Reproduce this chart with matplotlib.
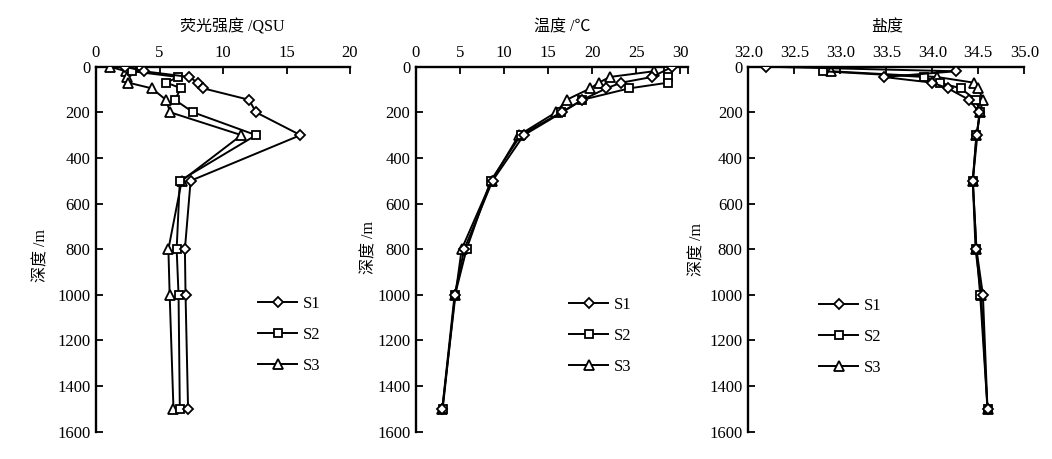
import numpy as np
import matplotlib
matplotlib.use("Agg")
import matplotlib.pyplot as plt

plt.rcParams['font.family'] = ['Liberation Serif', 'Noto Sans CJK SC', 'DejaVu Sans']
plt.rcParams['axes.unicode_minus'] = False

# ---- data ----
depth = [0, 20, 45, 70, 95, 145, 200, 300, 500, 800, 1000, 1500]
stations = ['S1', 'S2', 'S3']

fluor_S1 = [2.3, 3.75, 7.35, 8.0, 8.45, 12.05, 12.6, 16.1, 7.45, 7.0, 7.05, 7.25]
fluor_S2 = [3.55, 2.85, 6.45, 5.55, 6.7, 6.2, 7.65, 12.6, 6.6, 6.35, 6.5, 6.6]
fluor_S3 = [1.1, 2.35, 2.45, 2.55, 4.4, 5.5, 5.85, 11.45, 6.75, 5.7, 5.8, 6.1]

temp_S1 = [29.1, np.nan, 26.8, 23.3, 21.6, 18.9, 16.6, 12.25, 8.7, 5.5, 4.4, 3.0]
temp_S2 = [np.nan, 28.6, 28.6, 28.6, 24.2, 18.9, 16.5, 11.9, 8.5, 5.75, 4.45, 3.05]
temp_S3 = [np.nan, 27.0, 22.0, 20.75, 19.8, 17.1, 15.9, 11.7, 8.6, 5.2, 4.5, 3.0]

sal_S1 = [32.19, 34.26, 33.47, 34.0, 34.17, 34.40, 34.51, 34.49, 34.44, 34.48, 34.55, 34.60]
sal_S2 = [np.nan, 32.81, 33.91, 34.08, 34.31, 34.47, 34.52, 34.48, 34.44, 34.48, 34.52, 34.60]
sal_S3 = [np.nan, 32.90, 34.05, 34.45, 34.50, 34.55, 34.52, 34.48, 34.44, 34.47, 34.53, 34.60]

titles = ['荧光强度 /QSU', '温度 /℃', '盐度']
ylabel = '深度 /m'
xticks_list = [[0, 5, 10, 15, 20],
               [0, 5, 10, 15, 20, 25, 30, 30.9],
               [32.0, 32.5, 33.0, 33.5, 34.0, 34.5, 35.0]]
xtick_labels = [['0', '5', '10', '15', '20'],
                ['0', '5', '10', '15', '20', '25', '30', ''],
                ['32.0', '32.5', '33.0', '33.5', '34.0', '34.5', '35.0']]
xlims = [(0, 20), (0, 30.9), (32, 35)]
yticks = [0, 200, 400, 600, 800, 1000, 1200, 1400, 1600]

panels = [[fluor_S1, fluor_S2, fluor_S3],
          [temp_S1, temp_S2, temp_S3],
          [sal_S1, sal_S2, sal_S3]]

markers = ['D', 's', '^']
msizes = [5.4, 6.2, 6.8]

# ---- layout ----
fig = plt.figure(figsize=(10.52, 4.59), dpi=100)
H = 459.0
W = 1052.0
top_px, bot_px = 66.7, 431.7
axes_px = [(96.0, 350.0), (415.8, 688.3), (748.3, 1024.3)]
title_x_px = [232, 562, 887]
ylabel_pos = [(41.5, 255), (369, 247), (697, 250)]
legend_pos = [(258, 296), (569, 297), (819, 298)]

for i, (l, r) in enumerate(axes_px):
    ax = fig.add_axes([l / W, 1 - bot_px / H, (r - l) / W, (bot_px - top_px) / H])
    for j, s in enumerate(stations):
        x = np.array(panels[i][j], dtype=float)
        y = np.array(depth, dtype=float)
        m = ~np.isnan(x)
        ax.plot(x[m], y[m], color='black', lw=1.4, marker=markers[j], ms=msizes[j],
                mfc='white', mec='black', mew=1.3, label=s, zorder=3 + (2 - j))
    ax.set_xlim(*xlims[i])
    ax.set_ylim(1600, 0)
    ax.xaxis.tick_top()
    ax.set_xticks(xticks_list[i])
    ax.set_xticklabels(xtick_labels[i])
    ax.set_yticks(yticks)
    ax.spines['right'].set_visible(False)
    ax.spines['bottom'].set_visible(False)
    ax.spines['top'].set_linewidth(1.7)
    ax.spines['left'].set_linewidth(1.7)
    ax.tick_params(axis='both', direction='in', length=5, width=1.3, labelsize=12)
    ax.tick_params(axis='x', pad=4)
    ax.tick_params(axis='y', pad=4)
    ax.patch.set_alpha(0)

    # title
    tx = (title_x_px[i] - l) / (r - l)
    ty = (bot_px - 27) / (bot_px - top_px)
    ax.text(tx, ty, titles[i], transform=ax.transAxes, ha='center', va='center', fontsize=11.5)

    # y label
    ylx, yly = ylabel_pos[i]
    ax.text((ylx - l) / (r - l), (bot_px - yly) / (bot_px - top_px), ylabel,
            transform=ax.transAxes, rotation=90, ha='center', va='center', fontsize=11.5)

    # legend
    lx, ly = legend_pos[i]
    ax.legend(loc='upper left',
              bbox_to_anchor=((lx - l) / (r - l), (bot_px - ly) / (bot_px - top_px)),
              frameon=False, fontsize=12, handlelength=2.35, handletextpad=0.35,
              labelspacing=0.9, borderpad=0, borderaxespad=0, numpoints=1)

fig.savefig('out.png', dpi=100)
